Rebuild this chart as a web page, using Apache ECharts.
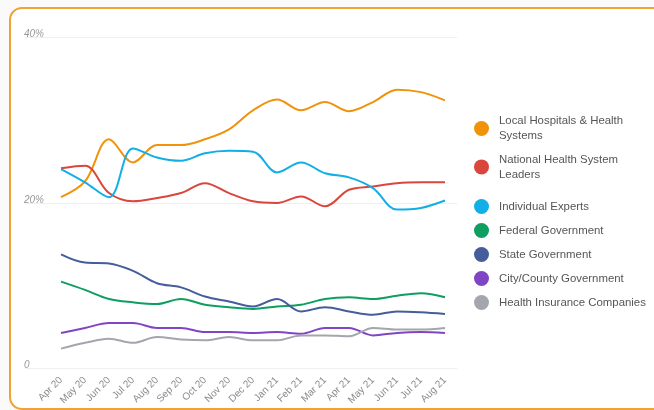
<!DOCTYPE html>
<html>
<head>
<meta charset="utf-8">
<script src="https://cdn.jsdelivr.net/npm/echarts@6/dist/echarts.min.js"></script>
<style>
  html, body { margin: 0; padding: 0; background: #fafafa; }
  #chart { width: 654px; height: 410px; }
</style>
</head>
<body>
<div id="chart"></div>
<script>
var months = ['Apr 20','May 20','Jun 20','Jul 20','Aug 20','Sep 20','Oct 20','Nov 20','Dec 20',
              'Jan 21','Feb 21','Mar 21','Apr 21','May 21','Jun 21','Jul 21','Aug 21'];

var localHospitals = [20.7,22.6,27.7,24.9,27.0,27.0,27.7,28.9,31.2,32.5,31.2,32.2,31.1,32.2,33.7,33.4,32.4];
var nationalLeaders = [24.2,24.5,21.2,20.2,20.6,21.2,22.4,21.2,20.2,20.0,20.8,19.6,21.6,22.0,22.4,22.5,22.5];
var individualExperts = [24.1,22.5,20.7,26.6,25.5,25.1,26.0,26.3,26.2,23.7,24.9,23.6,23.1,21.8,19.2,19.4,20.3];
var federalGov = [10.5,9.5,8.4,8.0,7.8,8.4,7.7,7.4,7.2,7.5,7.7,8.4,8.6,8.4,8.8,9.1,8.6];
var stateGov = [13.8,12.8,12.7,11.8,10.3,9.8,8.7,8.1,7.5,8.4,6.9,7.4,6.9,6.5,6.9,6.8,6.6];
var cityCountyGov = [4.3,4.9,5.5,5.5,4.9,4.9,4.4,4.4,4.3,4.4,4.2,4.9,4.9,4.0,4.3,4.4,4.3];
var healthInsurance = [2.4,3.1,3.6,3.1,3.8,3.5,3.4,3.8,3.4,3.4,4.0,4.0,3.9,4.9,4.7,4.7,4.9];

var yTicks = { 0: '0', 20: '20%', 40: '40%' };

var seriesList = [
  { name: 'Local Hospitals & Health\nSystems', data: localHospitals, color: '#f0930a' },
  { name: 'National Health System\nLeaders', data: nationalLeaders, color: '#d9463c' },
  { name: 'Individual Experts', data: individualExperts, color: '#12aee6' },
  { name: 'Federal Government', data: federalGov, color: '#0e9e60' },
  { name: 'State Government', data: stateGov, color: '#455d9b' },
  { name: 'City/County Government', data: cityCountyGov, color: '#8045c5' },
  { name: 'Health Insurance Companies', data: healthInsurance, color: '#a3a6ad' }
];

var chart = echarts.init(document.getElementById('chart'));

var legendText = { color: '#555', fontSize: 11.4, fontFamily: 'Liberation Sans, Arial, sans-serif', lineHeight: 15 };

chart.setOption({
  backgroundColor: '#fafafa',
  animation: false,
  graphic: [{
    type: 'rect',
    shape: { x: 10, y: 8, width: 700, height: 401, r: 12 },
    style: { fill: '#fff', stroke: '#f0a232', lineWidth: 2 },
    z: -10
  }],
  legend: [{
    orient: 'vertical',
    left: 474,
    top: 106,
    padding: 0,
    itemWidth: 25,
    itemHeight: 15,
    itemGap: -6.6,
    icon: 'circle',
    data: seriesList.slice(0, 2).map(function (s) { return s.name; }),
    textStyle: Object.assign({ padding: [15, 0, 0, 0] }, legendText)
  }, {
    orient: 'vertical',
    left: 474,
    top: 199,
    padding: 0,
    itemWidth: 25,
    itemHeight: 15,
    itemGap: 9,
    icon: 'circle',
    data: seriesList.slice(2).map(function (s) { return s.name; }),
    textStyle: legendText
  }],
  grid: [
    { left: 25, right: 197, top: 37.5, bottom: 41.5 },
    { left: 61, right: 209, top: 37.5, bottom: 41.5 }
  ],
  xAxis: [{
    gridIndex: 0, type: 'value', show: false, min: 0, max: 1
  }, {
    gridIndex: 1,
    type: 'category',
    data: months,
    boundaryGap: false,
    axisLine: { show: false },
    axisTick: { show: false },
    axisLabel: {
      rotate: 45,
      margin: 10,
      interval: 0,
      color: '#8a8a8a',
      fontSize: 10,
      fontFamily: 'Liberation Sans, Arial, sans-serif'
    }
  }],
  yAxis: [{
    gridIndex: 0,
    type: 'value',
    min: 0,
    max: 40,
    interval: 20,
    axisLine: { show: false },
    axisTick: { show: false },
    splitLine: { lineStyle: { color: '#efefef', width: 1 } },
    axisLabel: {
      inside: true,
      margin: -1,
      verticalAlign: 'bottom',
      lineHeight: 6,
      color: '#999',
      fontSize: 10,
      fontStyle: 'italic',
      fontFamily: 'Liberation Sans, Arial, sans-serif',
      formatter: function (v) { return yTicks[v]; }
    }
  }, {
    gridIndex: 1,
    type: 'value',
    min: 0,
    max: 40,
    show: false
  }],
  series: seriesList.map(function (s) {
    return {
      name: s.name,
      type: 'line',
      xAxisIndex: 1,
      yAxisIndex: 1,
      data: s.data,
      smooth: 0.35,
      showSymbol: false,
      symbol: 'none',
      color: s.color,
      lineStyle: { width: 2, color: s.color }
    };
  })
});
</script>
</body>
</html>
